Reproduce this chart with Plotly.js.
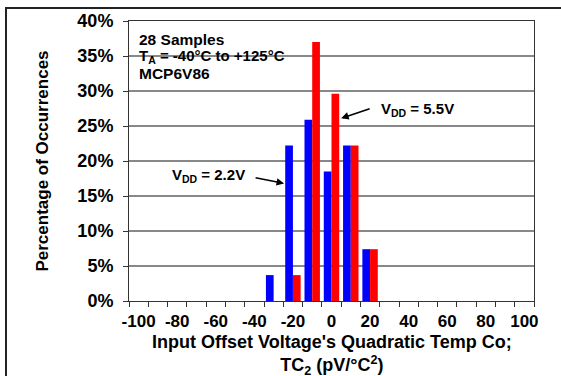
<!DOCTYPE html>
<html>
<head>
<meta charset="utf-8">
<script src="https://cdn.plot.ly/plotly-3.0.1.min.js"></script>
<style>
  html, body { margin: 0; padding: 0; background: #fff; }
  #chart { width: 561px; height: 376px; }
</style>
</head>
<body>
<div id="chart"></div>
<script>
// Bin centres of TC2 (pV/°C²)
const categories = [-30, -20, -10, 0, 10, 20];
// Percentage of occurrences per bin
const vdd22 = [3.7, 22.2, 25.9, 18.5, 22.2, 7.4];
const vdd55 = [0, 3.7, 37.0, 29.6, 22.2, 7.4];
// Axis tick labels
const xTickVals = [-100, -80, -60, -40, -20, 0, 20, 40, 60, 80, 100];
const yTickVals = [0, 5, 10, 15, 20, 25, 30, 35, 40];

const FONT = 'Liberation Sans, Arial, sans-serif';

const traces = [
  { type: 'bar', name: 'VDD = 2.2V', x: categories, y: vdd22,
    marker: { color: '#0000FF' }, hoverinfo: 'x+y' },
  { type: 'bar', name: 'VDD = 5.5V', x: categories, y: vdd55,
    marker: { color: '#FF0000' }, hoverinfo: 'x+y' }
];

const layout = {
  width: 561, height: 376,
  margin: { l: 129, r: 27, t: 21, b: 75 },
  paper_bgcolor: '#fff', plot_bgcolor: '#fff',
  showlegend: false,
  barmode: 'group', bargap: 0.2, bargroupgap: 0,
  font: { family: FONT, color: '#000' },
  xaxis: {
    range: [-105, 105],
    tickmode: 'array', tickvals: xTickVals, ticktext: xTickVals.map(String),
    ticks: 'outside', ticklen: 5, tickcolor: 'rgba(0,0,0,0)',
    minor: { tickmode: 'linear', tick0: -105, dtick: 10, ticks: 'outside',
             ticklen: 5, tickwidth: 1, tickcolor: '#333', showgrid: false },
    tickfont: { family: FONT, size: 17, color: '#000', weight: 'bold' },
    showline: true, linecolor: '#333', linewidth: 1, mirror: true,
    showgrid: false, zeroline: false
  },
  yaxis: {
    range: [0, 40],
    tickmode: 'array', tickvals: yTickVals, ticktext: yTickVals.map(v => v + '%'),
    ticks: 'outside', ticklen: 5, tickwidth: 1, tickcolor: '#333',
    tickfont: { family: FONT, size: 18, color: '#000', weight: 'bold' },
    ticklabelstandoff: 6,
    showline: true, linecolor: '#333', linewidth: 1, mirror: true,
    showgrid: true, gridcolor: '#888', gridwidth: 1.5, zeroline: false,
    title: { text: '<b>Percentage of Occurrences</b>',
             font: { family: FONT, size: 17, color: '#000' }, standoff: 24 }
  },
  shapes: [
    { type: 'rect', xref: 'paper', yref: 'paper',
      x0: (6 - 129) / 405, x1: (563 - 129) / 405,
      y0: (301 - 380) / 280, y1: (301 - 8) / 280,
      line: { color: '#222', width: 2 }, layer: 'below' }
  ],
  annotations: [
    // x-axis title (two lines)
    { xref: 'paper', yref: 'paper', x: 0.5, y: (301 - 355) / 280, xanchor: 'center', yanchor: 'middle',
      text: "<b>Input Offset Voltage's Quadratic Temp Co;<br>TC<sub>2</sub> (pV/°C<sup>2</sup>)</b>", showarrow: false,
      font: { family: FONT, size: 18, color: '#000' } },
    // info block
    { xref: 'x', yref: 'y', x: -100.8, y: 37.4, xanchor: 'left', yanchor: 'middle',
      text: '<b>28 Samples</b>', showarrow: false, font: { family: FONT, size: 15.5, color: '#000' } },
    { xref: 'x', yref: 'y', x: -100.8, y: 35.0, xanchor: 'left', yanchor: 'middle',
      text: '<b>T<sub>A</sub> = -40°C to +125°C</b>', showarrow: false, font: { family: FONT, size: 15, color: '#000' } },
    { xref: 'x', yref: 'y', x: -100.8, y: 32.5, xanchor: 'left', yanchor: 'middle',
      text: '<b>MCP6V86</b>', showarrow: false, font: { family: FONT, size: 15.5, color: '#000' } },
    // series labels with arrows
    { xref: 'x', yref: 'y', x: -64, y: 17.9, xanchor: 'center', yanchor: 'middle',
      text: '<b>V<sub>DD</sub> = 2.2V</b>', showarrow: false, font: { family: FONT, size: 15, color: '#000' } },
    { xref: 'x', yref: 'y', x: 44.6, y: 27.4, xanchor: 'center', yanchor: 'middle',
      text: '<b>V<sub>DD</sub> = 5.5V</b>', showarrow: false, font: { family: FONT, size: 15, color: '#000' } },
    { xref: 'x', yref: 'y', x: -24.6, y: 16.8, text: '', showarrow: true,
      ax: -30, ay: -6, arrowhead: 2, arrowsize: 1, arrowwidth: 1.5, arrowcolor: '#000' },
    { xref: 'x', yref: 'y', x: 5.0, y: 26.1, text: '', showarrow: true,
      ax: 30, ay: -10, arrowhead: 2, arrowsize: 1, arrowwidth: 1.5, arrowcolor: '#000' }
  ]
};

Plotly.newPlot('chart', traces, layout, { staticPlot: true, displayModeBar: false });
</script>
</body>
</html>
